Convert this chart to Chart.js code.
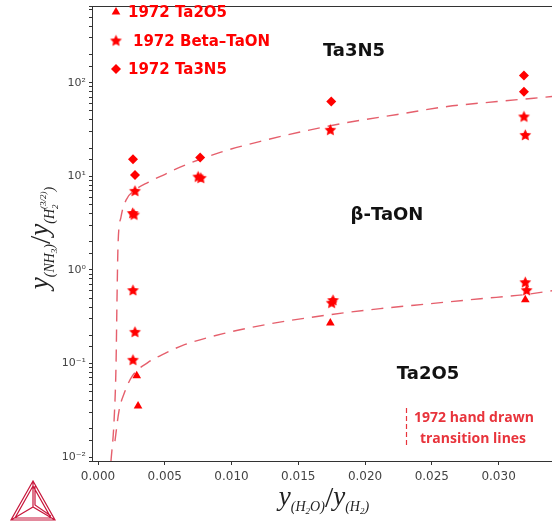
<!DOCTYPE html>
<html>
<head>
<meta charset="utf-8">
<script src="https://cdn.jsdelivr.net/npm/chart.js@4.4.1/dist/chart.umd.min.js"></script>
<style>
  html, body { margin: 0; padding: 0; background: #fff; overflow: hidden; }
  #wrap { width: 552px; height: 524px; overflow: hidden; }
</style>
</head>
<body>
<div id="wrap"><canvas id="chart" width="558" height="524"></canvas></div>
<script>
// 1972 measurements (x = y(H2O)/y(H2), y = y(NH3)/y(H2)^1.5)
const ta2o5X = [0.0029, 0.0030, 0.0174, 0.0320];
const ta2o5Y = [0.074, 0.035, 0.27, 0.48];

const betaTaonX = [0.00277, 0.0027, 0.0026, 0.00262, 0.00277, 0.00262, 0.0075, 0.0077, 0.0174, 0.0176, 0.0175, 0.0319, 0.0320, 0.0320, 0.0321];
const betaTaonY = [6.9, 3.85, 4.0, 0.6, 0.215, 0.108, 9.8, 9.5, 31, 0.47, 0.44, 43, 27.3, 0.73, 0.6];

const ta3n5X = [0.00262, 0.00277, 0.00765, 0.01747, 0.0319, 0.0319];
const ta3n5Y = [15.2, 10.3, 15.9, 62.8, 119, 80];

// hand drawn transition lines
const upperLineX = [0.00097, 0.0012, 0.00135, 0.00142, 0.0015, 0.00172, 0.0021, 0.00277, 0.00375, 0.00502, 0.00615, 0.00915, 0.01237, 0.01567, 0.01867, 0.02242, 0.02616, 0.0299, 0.034];
const upperLineY = [0.009, 0.024, 0.0975, 0.457, 1.85, 3.66, 5.56, 7.1, 8.6, 10.5, 12.5, 18, 24, 30.8, 37.5, 45.7, 55.6, 62.8, 71];

const lowerLineX = [0.00127, 0.00157, 0.00202, 0.00255, 0.00375, 0.00502, 0.0063, 0.00937, 0.01289, 0.01739, 0.02114, 0.02489, 0.02864, 0.03186, 0.034];
const lowerLineY = [0.0148, 0.031, 0.0504, 0.0728, 0.1026, 0.128, 0.155, 0.208, 0.265, 0.332, 0.385, 0.435, 0.491, 0.542, 0.598];

const xTickValues = [0, 0.005, 0.010, 0.015, 0.020, 0.025, 0.030];
const supers = { '-': '\u207B', '0': '\u2070', '1': '\u00B9', '2': '\u00B2', '3': '\u00B3' };

const red = '#ff0000';
const lineRed = 'rgba(226, 78, 92, 0.9)';
const axisGrey = '#333';

const pts = (xs, ys) => xs.map((x, i) => ({ x: x, y: ys[i] }));

function makeStar(r) {
  const c = document.createElement('canvas');
  const s = Math.ceil(r * 2) + 2;
  c.width = s; c.height = s;
  const g = c.getContext('2d');
  g.fillStyle = red;
  g.beginPath();
  for (let i = 0; i < 10; i++) {
    const a = -Math.PI / 2 + i * Math.PI / 5;
    const rr = i % 2 ? r * 0.48 : r;
    g.lineTo(s / 2 + rr * Math.cos(a), s / 2 + rr * Math.sin(a));
  }
  g.closePath();
  g.fill();
  return c;
}
const starImg = makeStar(6.2);

// draw a row of text pieces (sub/superscripts), centred on x
function drawRuns(ctx, runs, cx, y) {
  let w = 0;
  runs.forEach(r => {
    ctx.font = r.f;
    r.w = ctx.measureText(r.t).width;
    if (!r.noAdv) w += r.w + (r.k || 0);
  });
  let x = cx - w / 2;
  runs.forEach(r => {
    ctx.font = r.f;
    ctx.fillText(r.t, x, y + (r.dy || 0));
    if (!r.noAdv) x += r.w + (r.k || 0);
  });
}

const big = 'italic 27px "Liberation Serif"';
const mid = 'italic 14px "Liberation Serif"';
const sml = 'italic 9px "Liberation Serif"';
const slash = '30px "Liberation Serif"';

const overlay = {
  id: 'overlay',
  afterDraw(chart) {
    const ctx = chart.ctx;
    const a = chart.chartArea;
    ctx.save();

    // top frame line
    ctx.strokeStyle = axisGrey;
    ctx.lineWidth = 1;
    ctx.beginPath();
    ctx.moveTo(a.left, a.top + 0.5);
    ctx.lineTo(a.right, a.top + 0.5);
    ctx.stroke();

    // legend
    ctx.fillStyle = red;
    Chart.helpers.drawPoint(ctx, { pointStyle: 'triangle', radius: 5, rotation: 0, borderWidth: 0 }, 116, 12);
    ctx.drawImage(starImg, 116 - starImg.width / 2, 41 - starImg.height / 2);
    Chart.helpers.drawPoint(ctx, { pointStyle: 'rectRot', radius: 5, rotation: 0, borderWidth: 0 }, 116, 69);
    ctx.font = 'bold 15px "DejaVu Sans"';
    ctx.textBaseline = 'middle';
    ctx.textAlign = 'left';
    ctx.fillText('1972 Ta2O5', 128, 13);
    ctx.fillText('1972 Beta\u2013TaON', 133, 42);
    ctx.fillText('1972 Ta3N5', 128, 70);

    // phase regions
    ctx.fillStyle = '#111';
    ctx.textAlign = 'center';
    ctx.font = 'bold 18px "DejaVu Sans"';
    ctx.fillText('Ta3N5', 354, 51);
    ctx.fillText('\u03B2-TaON', 387, 215);
    ctx.fillText('Ta2O5', 428, 374);

    // note about the dashed lines
    ctx.strokeStyle = '#e8343c';
    ctx.lineWidth = 1.2;
    ctx.setLineDash([5, 3]);
    ctx.beginPath();
    ctx.moveTo(406.5, 408);
    ctx.lineTo(406.5, 447);
    ctx.stroke();
    ctx.setLineDash([]);
    ctx.fillStyle = '#e8343c';
    ctx.font = 'bold 14px "Open Sans"';
    ctx.fillText('1972 hand drawn', 474, 418);
    ctx.fillText('transition lines', 473, 439);

    // axis titles
    ctx.fillStyle = '#222';
    ctx.textAlign = 'left';
    ctx.textBaseline = 'alphabetic';
    drawRuns(ctx, [
      { t: 'y', f: big },
      { t: '(H', f: mid, dy: 6 },
      { t: '2', f: sml, dy: 9 },
      { t: 'O)', f: mid, dy: 6 },
      { t: '/', f: slash, dy: 2 },
      { t: 'y', f: big },
      { t: '(H', f: mid, dy: 6 },
      { t: '2', f: sml, dy: 9 },
      { t: ')', f: mid, dy: 6 }
    ], 324, 505);

    ctx.save();
    ctx.translate(48, 238);
    ctx.rotate(-Math.PI / 2);
    drawRuns(ctx, [
      { t: 'y', f: big },
      { t: '(NH', f: mid, dy: 6 },
      { t: '3', f: sml, dy: 9 },
      { t: ')', f: mid, dy: 6 },
      { t: '/', f: slash, dy: 2 },
      { t: 'y', f: big },
      { t: '(H', f: mid, dy: 6 },
      { t: '2', f: sml, dy: 10, noAdv: true },
      { t: '(3/2)', f: sml, dy: -2 },
      { t: ')', f: mid, dy: 6 }
    ], 0, 0);
    ctx.restore();

    // Thermo-Calc logo
    ctx.strokeStyle = '#c8173c';
    ctx.lineWidth = 1.2;
    const apex = [33, 481], bl = [11, 520], br = [55, 520], mid0 = [33, 507];
    ctx.beginPath();
    ctx.moveTo(apex[0], apex[1]); ctx.lineTo(bl[0], bl[1]); ctx.lineTo(br[0], br[1]); ctx.closePath();
    ctx.moveTo(33, 486); ctx.lineTo(15, 518); ctx.lineTo(51, 518); ctx.closePath();
    ctx.moveTo(apex[0], apex[1]); ctx.lineTo(mid0[0], mid0[1]);
    ctx.moveTo(bl[0], bl[1]); ctx.lineTo(mid0[0], mid0[1]); ctx.lineTo(br[0], br[1]);
    ctx.moveTo(35, 486); ctx.lineTo(35, 505); ctx.lineTo(51, 516);
    ctx.stroke();

    ctx.restore();
  }
};

const markerBase = { showLine: false, pointBackgroundColor: red, pointBorderColor: red, pointBorderWidth: 0 };
const curveBase = {
  showLine: true, pointRadius: 0, borderColor: lineRed, borderWidth: 1.4,
  borderDash: [12, 8], cubicInterpolationMode: 'monotone', fill: false
};

new Chart(document.getElementById('chart').getContext('2d'), {
  type: 'scatter',
  data: {
    datasets: [
      Object.assign({ label: '1972 Ta2O5', data: pts(ta2o5X, ta2o5Y), pointStyle: 'triangle', pointRadius: 5 }, markerBase),
      Object.assign({ label: '1972 Beta-TaON', data: pts(betaTaonX, betaTaonY), pointStyle: starImg, pointRadius: 6 }, markerBase),
      Object.assign({ label: '1972 Ta3N5', data: pts(ta3n5X, ta3n5Y), pointStyle: 'rectRot', pointRadius: 5 }, markerBase),
      Object.assign({ label: 'upper', data: pts(upperLineX, upperLineY) }, curveBase),
      Object.assign({ label: 'lower', data: pts(lowerLineX, lowerLineY) }, curveBase)
    ]
  },
  options: {
    responsive: false,
    animation: false,
    layout: { padding: { left: 0, top: 1, right: 0, bottom: 0 } },
    plugins: { legend: { display: false }, tooltip: { enabled: false } },
    scales: {
      x: {
        type: 'linear',
        min: -0.00045,
        max: 0.034,
        afterFit: s => { s.height = 63; s.paddingLeft = 0; s.paddingRight = 0; },
        afterBuildTicks: s => { s.ticks = xTickValues.map(v => ({ value: v })); },
        grid: { display: true, drawOnChartArea: false, drawTicks: true, tickLength: 4, color: axisGrey },
        border: { display: true, color: axisGrey, width: 1 },
        ticks: {
          color: '#444',
          font: { family: 'DejaVu Sans', size: 12 },
          padding: 5,
          maxRotation: 0,
          autoSkip: false,
          callback: v => v.toFixed(3)
        }
      },
      y: {
        type: 'logarithmic',
        min: 0.00907,
        max: 659,
        afterFit: s => { s.width = 92; s.paddingTop = 0; s.paddingBottom = 0; },
        grid: { display: true, drawOnChartArea: false, drawTicks: true, tickLength: 3, color: axisGrey },
        border: { display: true, color: axisGrey, width: 1 },
        ticks: {
          color: '#444',
          font: { family: 'DejaVu Sans', size: 11 },
          padding: 3,
          autoSkip: false,
          callback: v => {
            const e = Math.log10(v);
            if (Math.abs(e - Math.round(e)) > 1e-6) return '';
            return '10' + String(Math.round(e)).split('').map(c => supers[c]).join('');
          }
        }
      }
    }
  },
  plugins: [overlay]
});
</script>
</body>
</html>
